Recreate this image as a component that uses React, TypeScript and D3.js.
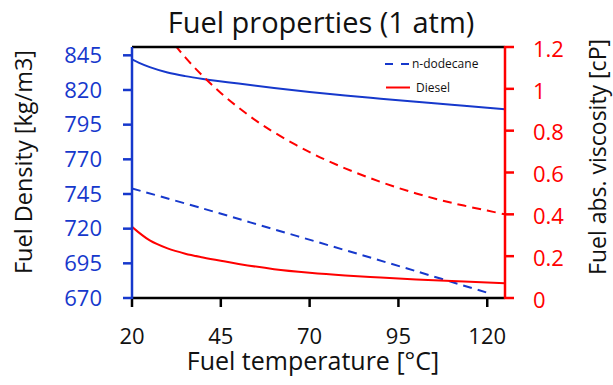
import React from 'react';
import * as d3 from 'd3';

// Temperature grids (°C) and measured fuel properties
const dieselDensityTemp = [20, 22, 25, 30, 35, 40, 50, 60, 70, 80, 90, 100, 110, 120, 125];
const dieselDensity = [842, 839.6, 836.5, 832.6, 830.0, 828.0, 824.6, 821.5, 818.6, 816.0, 813.7, 811.5, 809.4, 807.2, 806.1];

const dodecaneDensityTemp = [20, 40, 60, 80, 100, 120];
const dodecaneDensity = [749, 734.5, 719.5, 704.5, 689.3, 673.8];

const dieselViscTemp = [20, 25, 30, 35, 40, 45, 50, 60, 70, 80, 90, 100, 110, 120, 125];
const dieselViscosity = [0.34, 0.275, 0.237, 0.212, 0.194, 0.178, 0.163, 0.138, 0.121, 0.108, 0.098, 0.089, 0.081, 0.074, 0.07];

const dodecaneViscTemp = [20, 25, 30, 35, 40, 45, 50, 55, 60, 70, 80, 90, 100, 110, 120, 125];
const dodecaneViscosity = [1.5, 1.37, 1.255, 1.15, 1.06, 0.98, 0.91, 0.847, 0.792, 0.697, 0.62, 0.555, 0.5, 0.455, 0.418, 0.4];

const tempTicks = [20, 45, 70, 95, 120];
const densityTicks = [670, 695, 720, 745, 770, 795, 820, 845];
const viscosityTicks = [0, 0.2, 0.4, 0.6, 0.8, 1, 1.2];

const W = 613;
const H = 385;
const left = 132;
const right = 505;
const top = 47;
const bottom = 298;

const BLUE = '#1638cc';
const RED = '#ff0000';
const FONT = "'Open Sans', 'Noto Sans', sans-serif";

export default function App() {
  const x = d3.scaleLinear().domain([20, 125]).range([left, right]);
  const yD = d3.scaleLinear().domain([670, 851]).range([bottom, top]);
  const yV = d3.scaleLinear().domain([0, 1.2]).range([bottom, top]);

  const zip = (xs: number[], ys: number[]) => xs.map((t, i) => [t, ys[i]] as [number, number]);

  const densityLine = d3
    .line<[number, number]>()
    .x((d) => x(d[0]))
    .y((d) => yD(d[1]))
    .curve(d3.curveCatmullRom.alpha(0.5));
  const viscLine = d3
    .line<[number, number]>()
    .x((d) => x(d[0]))
    .y((d) => yV(d[1]))
    .curve(d3.curveCatmullRom.alpha(0.5));

  return (
    <svg
      width={W}
      height={H}
      style={{ position: 'absolute', left: 0, top: 0, background: '#fff' }}
      fontFamily={FONT}
    >
      <defs>
        <clipPath id="plot-clip">
          <rect x={left} y={top} width={right - left} height={bottom - top} />
        </clipPath>
      </defs>

      {/* Title */}
      <text x={321} y={33} textAnchor="middle" fontSize={29} fill="#111">
        Fuel properties (1 atm)
      </text>

      {/* Series */}
      <g clipPath="url(#plot-clip)" fill="none" strokeWidth={2}>
        <path d={densityLine(zip(dieselDensityTemp, dieselDensity)) || ''} stroke={BLUE} />
        <path
          d={densityLine(zip(dodecaneDensityTemp, dodecaneDensity)) || ''}
          stroke={BLUE}
          strokeDasharray="9,6"
        />
        <path d={viscLine(zip(dieselViscTemp, dieselViscosity)) || ''} stroke={RED} />
        <path
          d={viscLine(zip(dodecaneViscTemp, dodecaneViscosity)) || ''}
          stroke={RED}
          strokeDasharray="9,6"
        />
      </g>

      {/* Frame: top and bottom */}
      <line x1={left} x2={right} y1={top} y2={top} stroke="#000" strokeWidth={2.5} />
      <line x1={left} x2={right} y1={bottom} y2={bottom} stroke="#000" strokeWidth={2.5} />

      {/* Bottom axis ticks and labels */}
      {tempTicks.map((t) => (
        <g key={`xt${t}`}>
          <line x1={x(t)} x2={x(t)} y1={bottom} y2={bottom + 9} stroke="#000" strokeWidth={2.5} />
          <text x={x(t)} y={344} textAnchor="middle" fontSize={22} fill="#111">
            {t}
          </text>
        </g>
      ))}
      <text x={313} y={370} textAnchor="middle" fontSize={25} fill="#111">
        Fuel temperature [°C]
      </text>

      {/* Left density axis */}
      <line x1={left} x2={left} y1={top} y2={bottom + 1} stroke={BLUE} strokeWidth={2.5} />
      {densityTicks.map((v) => (
        <g key={`yd${v}`}>
          <line x1={left - 9} x2={left} y1={yD(v)} y2={yD(v)} stroke={BLUE} strokeWidth={2.5} />
          <text x={102} y={yD(v)} dy="0.35em" textAnchor="end" fontSize={22} fill={BLUE}>
            {v}
          </text>
        </g>
      ))}
      <text
        transform={`translate(32, 162) rotate(-90)`}
        textAnchor="middle"
        fontSize={23.5}
        fill="#111"
      >
        Fuel Density [kg/m3]
      </text>

      {/* Right viscosity axis */}
      <line x1={right} x2={right} y1={top - 1} y2={bottom + 1} stroke={RED} strokeWidth={2.5} />
      {viscosityTicks.map((v) => (
        <g key={`yv${v}`}>
          <line x1={right} x2={right + 9} y1={yV(v)} y2={yV(v)} stroke={RED} strokeWidth={2.5} />
          <text x={533} y={yV(v) + 2} dy="0.35em" textAnchor="start" fontSize={22} fill={RED}>
            {v}
          </text>
        </g>
      ))}
      <text
        transform={`translate(606, 157) rotate(-90)`}
        textAnchor="middle"
        fontSize={23}
        fill="#111"
      >
        Fuel abs. viscosity [cP]
      </text>

      {/* Legend */}
      <line x1={385} x2={411} y1={64} y2={64} stroke={BLUE} strokeWidth={2} strokeDasharray="8,8" />
      <text x={412} y={64} dy="0.35em" fontSize={12} fill="#111">
        n-dodecane
      </text>
      <line x1={386} x2={410} y1={87.5} y2={87.5} stroke={RED} strokeWidth={2} />
      <text x={416} y={87.5} dy="0.35em" fontSize={12} fill="#111">
        Diesel
      </text>
    </svg>
  );
}
